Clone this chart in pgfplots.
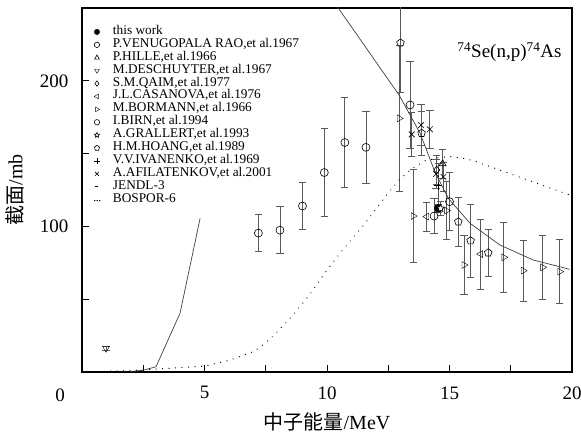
\documentclass[border=0pt]{standalone}
\usepackage{fontspec}
\setmainfont{Liberation Serif}
\newfontfamily\cjk{Noto Sans CJK SC}
\usepackage{pgfplots}
\pgfplotsset{compat=1.18}

% open five-pointed star
\pgfdeclareplotmark{ostar}{%
  \pgfpathmoveto{\pgfpointpolar{90}{\pgfplotmarksize}}%
  \pgfpathlineto{\pgfpointpolar{126}{0.45\pgfplotmarksize}}%
  \pgfpathlineto{\pgfpointpolar{162}{\pgfplotmarksize}}%
  \pgfpathlineto{\pgfpointpolar{198}{0.45\pgfplotmarksize}}%
  \pgfpathlineto{\pgfpointpolar{234}{\pgfplotmarksize}}%
  \pgfpathlineto{\pgfpointpolar{270}{0.45\pgfplotmarksize}}%
  \pgfpathlineto{\pgfpointpolar{306}{\pgfplotmarksize}}%
  \pgfpathlineto{\pgfpointpolar{342}{0.45\pgfplotmarksize}}%
  \pgfpathlineto{\pgfpointpolar{18}{\pgfplotmarksize}}%
  \pgfpathlineto{\pgfpointpolar{54}{0.45\pgfplotmarksize}}%
  \pgfpathclose\pgfusepathqfillstroke}

\definecolor{barcol}{gray}{0.35}

\pgfplotsset{
  exp/.style={only marks, mark size=4pt,
    mark options={fill=white, draw=black, line width=0.6pt},
    error bars/y dir=both, error bars/y explicit,
    error bars/error bar style={barcol, line width=0.85pt},
    error bars/error mark options={rotate=90, mark size=3.6pt, barcol, line width=0.85pt}},
  legmark/.style={legend image code/.code={%
    \path[draw=none, fill=none] (0pt,-2pt) rectangle (20pt,2pt);
    \draw[##1, mark size=2.7pt] plot coordinates {(4pt,0pt)};}},
  legdash/.style={legend image code/.code={%
    \path[draw=none, fill=none] (0pt,-2pt) rectangle (20pt,2pt);
    \draw[black, line width=0.6pt] (2.5pt,0pt) -- (5.5pt,0pt);}},
  legdots/.style={legend image code/.code={%
    \path[draw=none, fill=none] (0pt,-2pt) rectangle (20pt,2pt);
    \fill[black] (1.5pt,-1pt) circle (0.45pt) (4pt,-1pt) circle (0.45pt) (6.5pt,-1pt) circle (0.45pt);}},
}

\begin{document}
\begin{tikzpicture}
\useasboundingbox (-82pt,-62pt) rectangle (499pt,372pt);
\begin{axis}[
  at={(0pt,0pt)}, anchor=south west,
  scale only axis, width=490pt, height=364pt,
  xmin=0, xmax=20, ymin=0, ymax=250,
  xtick={2.5,5,7.5,10,12.5,15,17.5,20},
  xticklabels={,5,,10,,15,,20},
  ytick={50,100,150,200},
  yticklabels={,100,,200},
  tick align=inside, tick pos=left,
  major tick length=7pt,
  every tick/.style={black, line width=0.9pt},
  axis line style={line width=1.1pt},
  /pgf/number format/assume math mode=true,
  ticklabel style={font=\fontsize{19}{19}\selectfont},
  xticklabel style={yshift=-11pt},
  yticklabel style={xshift=-10pt},
  xlabel={{\cjk 中子能量}/MeV},
  ylabel={{\cjk 截面}/mb},
  label style={font=\fontsize{20}{20}\selectfont},
  xlabel style={at={(axis description cs:0.5,-0.136)}, anchor=center},
  ylabel style={at={(axis description cs:-0.137,0.5)}, anchor=center},
  legend style={at={(axis description cs:0.0224,0.952)}, anchor=north west,
    draw=none, fill=none, inner sep=0pt, outer sep=0pt,
    font=\fontsize{13.3}{13}\selectfont,
    nodes={inner sep=0pt, text height=9pt, text depth=3.9pt},
    row sep=0pt, column sep=0pt},
  legend cell align=left,
  clip=true,
]

% this work
\addplot[exp, mark=*, mark options={fill=black}, legmark] coordinates {
  (14.54,112.4) +- (0,3)
};
\addlegendentry{this work}

% P. Venugopala Rao et al. 1967
\addplot[exp, mark=o, legmark] coordinates {
  (7.20,95.4) +- (0,12.5)
  (8.08,97.4) +- (0,16)
  (9.00,114.0) +- (0,16)
  (9.89,137.0) +- (0,30)
  (10.73,157.6) +- (0,31)
  (11.59,154.3) +- (0,25)
};
\addlegendentry{P.VENUGOPALA RAO,et al.1967}

% P. Hille et al. 1966
\addplot[exp, mark=triangle, legmark] coordinates {
  (14.72,143.0) +- (0,10)
};
\addlegendentry{P.HILLE,et al.1966}

% M. Deschuyter et al. 1967
\addplot[exp, mark=triangle, mark options={rotate=180}, legmark] coordinates {
  (0.98,16.3) +- (0,1.5)
};
\addlegendentry{M.DESCHUYTER,et al.1967}

% S.M. Qaim et al. 1977
\addplot[exp, mark=diamond, legmark] coordinates {
  (14.48,138.7) +- (0,10)
};
\addlegendentry{S.M.QAIM,et al.1977}

% J.L. Casanova et al. 1976
\addplot[exp, mark=triangle, mark options={rotate=90}, legmark] coordinates {
  (14.07,106.7) +- (0,10)
  (16.27,81.0) +- (0,24)
};
\addlegendentry{J.L.CASANOVA,et al.1976}

% M. Bormann et al. 1966
\addplot[exp, mark=triangle, mark options={rotate=-90}, legmark] coordinates {
  (12.95,174.2) +- (0,50)
  (13.52,107.1) +- (0,32)
  (14.88,110.8) +- (0,20)
  (15.59,73.5) +- (0,20)
  (17.22,78.8) +- (0,24)
  (18.01,69.6) +- (0,21)
  (18.80,71.9) +- (0,22)
  (19.50,68.9) +- (0,22)
};
\addlegendentry{M.BORMANN,et al.1966}

% I. Birn et al. 1994
\addplot[exp, mark=o, legmark] coordinates {
  (13.39,183.4) +- (0,30)
  (14.37,107.1) +- (0,12)
  (15.00,117.0) +- (0,20)
};
\addlegendentry{I.BIRN,et al.1994}

% A. Grallert et al. 1993
\addplot[exp, mark=ostar, legmark] coordinates {
  (14.64,112.4) +- (0,5)
};
\addlegendentry{A.GRALLERT,et al.1993}

% H.M. Hoang et al. 1989
\addplot[exp, mark=pentagon, legmark] coordinates {
  (13.00,226.0) +- (0,34)
  (13.86,164.0) +- (0,15)
  (15.36,103.2) +- (0,17)
  (15.86,90.2) +- (0,25)
  (16.58,81.9) +- (0,16)
};
\addlegendentry{H.M.HOANG,et al.1989}

% V.V. Ivanenko et al. 1969
\addplot[exp, mark=+, legmark] coordinates {
  (14.55,128.0) +- (0,15)
};
\addlegendentry{V.V.IVANENKO,et al.1969}

% A. Afilatenkov et al. 2001
\addplot[exp, mark=x, legmark] coordinates {
  (13.46,163.2) +- (0,15)
  (13.84,169.6) +- (0,14)
  (14.20,166.7) +- (0,13)
  (14.45,136.0) +- (0,10)
  (14.75,134.0) +- (0,10)
};
\addlegendentry{A.AFILATENKOV,et al.2001}

% JENDL-3 evaluation
\addplot[black!75, line width=0.7pt, unbounded coords=jump, legdash] coordinates {
  (1.96,0.3) (2.5,1.2) (3.02,3.6) (4.0,40.3) (4.82,105.5)
  (7.0,nan)
  (10.3,254) (10.46,250) (12.95,190) (13.8,164) (14.4,137.6)
  (14.95,119.3) (15.84,102.1) (17.06,87.2) (18.42,76.9)
  (19.5,72.3) (19.9,70.5)
};
\addlegendentry{JENDL-3}

% BOSPOR-6 calculation
\addplot[black, line width=1.3pt, line cap=round, dash pattern=on 0.01pt off 6.5pt, legdots] coordinates {
  (0.9,0.5) (2,1) (3,2) (4,3) (5,4) (5.5,6) (6,8) (6.5,11) (7,14)
  (7.5,20) (8,28) (8.5,37) (9,47) (9.5,58) (10,70) (10.5,81) (11,91)
  (11.5,101) (12,112) (12.5,123) (13,133) (13.5,140) (14,145)
  (14.5,147) (15,148) (15.5,147) (16,145) (16.5,142) (17,139)
  (17.5,136) (18,133) (18.5,130) (19,127) (19.5,124) (20,121)
};
\addlegendentry{BOSPOR-6}

\node[anchor=west, font=\fontsize{19}{19}\selectfont] at (axis description cs:0.759,0.879)
  {\textsuperscript{74}Se(n,p)\textsuperscript{74}As};
\end{axis}
% shared origin label
\node[font=\fontsize{19}{19}\selectfont] at (-22pt,-23pt) {0};
\end{tikzpicture}
\end{document}
